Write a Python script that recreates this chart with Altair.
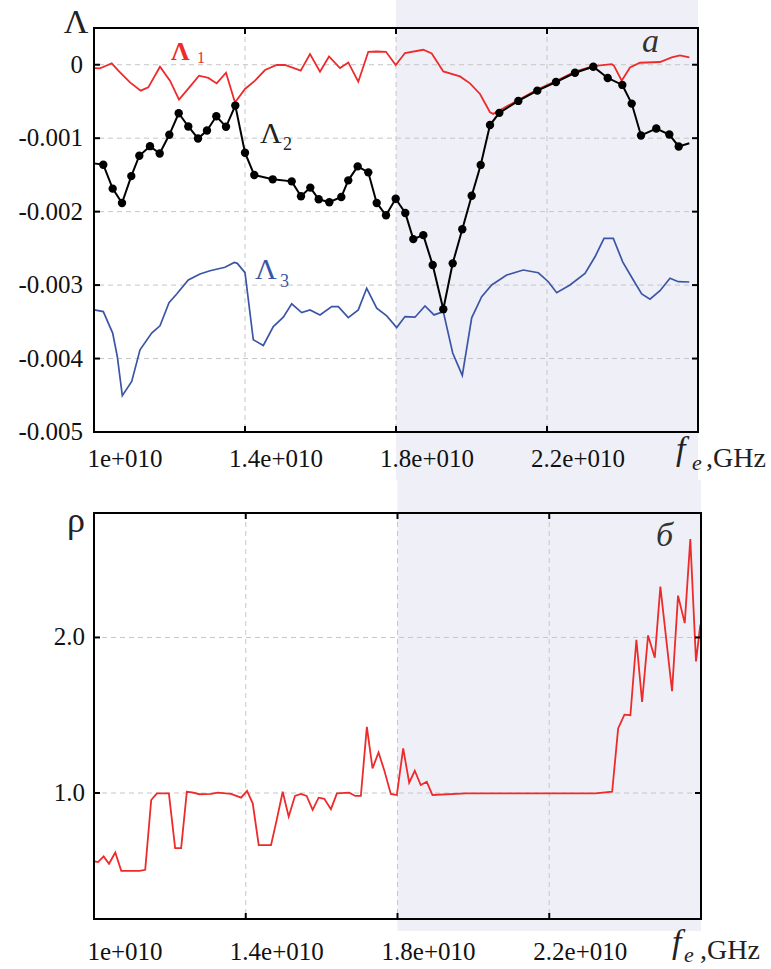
import altair as alt
import pandas as pd

FONT = "Liberation Serif"

# ---------------- data (frequency in units of 1e10 Hz, Lambda in units of 1e-3) ----------------
red_f = [1.0008, 1.0159, 1.0318, 1.0469, 1.0644, 1.0954, 1.1237, 1.1438, 1.1748, 1.2013, 1.2252, 1.2543,
         1.2781, 1.3028, 1.3250, 1.3497, 1.3735, 1.4000, 1.4265, 1.4530, 1.4840, 1.5060, 1.5476, 1.5722,
         1.5987, 1.6225, 1.6517, 1.6736, 1.7001, 1.7266, 1.7489, 1.7735, 1.7992, 1.8238, 1.8723, 1.8946,
         1.9253, 1.9695, 1.9960, 2.0225, 2.0490, 2.0577, 2.0737, 2.1240, 2.1743, 2.2238, 2.2742, 2.3226,
         2.3714, 2.3775, 2.3979, 2.4199, 2.4464, 2.4993, 2.5303, 2.5523, 2.5770]
red_v = [-0.045, -0.050, -0.014, 0.018, -0.081, -0.240, -0.353, -0.308, -0.027, -0.217, -0.475, -0.299,
         -0.149, -0.180, -0.254, -0.109, -0.516, -0.330, -0.217, -0.072, -0.004, -0.004, -0.081, 0.145,
         -0.095, 0.113, -0.045, 0.031, -0.231, 0.176, 0.180, 0.176, -0.004, 0.159, 0.204, 0.153,
         -0.091, -0.159, -0.254, -0.398, -0.647, -0.669, -0.624, -0.479, -0.339, -0.221, -0.095, -0.018,
         0.009, -0.014, -0.217, -0.037, 0.027, 0.037, 0.099, 0.126, 0.099]

black_f = [1.000, 1.0246, 1.0495, 1.0742, 1.0988, 1.1200, 1.1483, 1.1740, 1.1995, 1.2244, 1.2498, 1.2755,
           1.2993, 1.3240, 1.3497, 1.3743, 1.4000, 1.4246, 1.4734, 1.5237, 1.5483, 1.5730, 1.5952, 1.6233,
           1.6551, 1.6736, 1.6985, 1.7266, 1.7489, 1.7735, 1.7992, 1.8246, 1.8458, 1.8723, 1.8972, 1.9253,
           1.9502, 1.9756, 2.0005, 2.0244, 2.0490, 2.0737, 2.1240, 2.1743, 2.2238, 2.2742, 2.3226, 2.3608,
           2.3995, 2.4244, 2.4490, 2.4895, 2.5240, 2.5489, 2.5770]
black_v = [-1.343, -1.361, -1.687, -1.882, -1.516, -1.239, -1.109, -1.208, -0.954, -0.661, -0.841, -1.004,
           -0.896, -0.702, -0.845, -0.556, -1.198, -1.502, -1.560, -1.588, -1.791, -1.673, -1.832, -1.872,
           -1.801, -1.574, -1.384, -1.465, -1.882, -2.049, -1.825, -2.019, -2.374, -2.320, -2.727, -3.328,
           -2.704, -2.239, -1.784, -1.364, -0.821, -0.655, -0.493, -0.353, -0.235, -0.109, -0.027, -0.180,
           -0.275, -0.529, -0.963, -0.868, -0.950, -1.113, -1.068]

blue_f = [1.0008, 1.0246, 1.0495, 1.0617, 1.0750, 1.0999, 1.1219, 1.1528, 1.1748, 1.1987, 1.2191, 1.2498,
          1.2808, 1.3073, 1.3470, 1.3717, 1.3796, 1.4000, 1.4220, 1.4485, 1.4750, 1.5015, 1.5237, 1.5502,
          1.5722, 1.5987, 1.6297, 1.6472, 1.6736, 1.7001, 1.7224, 1.7489, 1.7754, 1.8019, 1.8238, 1.8503,
          1.8768, 1.9007, 1.9253, 1.9502, 1.9756, 2.0005, 2.0270, 2.0535, 2.0932, 2.1372, 2.1770, 2.2035,
          2.2257, 2.2609, 2.3007, 2.3272, 2.3510, 2.3756, 2.4005, 2.4286, 2.4509, 2.4728, 2.4993, 2.5258,
          2.5478, 2.5770]
blue_v = [-3.338, -3.361, -3.654, -3.972, -4.505, -4.311, -3.881, -3.654, -3.555, -3.239, -3.121, -2.931,
          -2.849, -2.805, -2.758, -2.691, -2.704, -2.830, -3.744, -3.822, -3.564, -3.437, -3.256, -3.375,
          -3.338, -3.406, -3.293, -3.293, -3.442, -3.338, -3.043, -3.315, -3.419, -3.578, -3.429, -3.437,
          -3.284, -3.406, -3.361, -3.925, -4.229, -3.446, -3.157, -2.999, -2.863, -2.795, -2.832, -2.954,
          -3.103, -2.999, -2.840, -2.615, -2.365, -2.365, -2.683, -2.931, -3.121, -3.193, -3.076, -2.908,
          -2.954, -2.958]

rho_f = [1.0018, 1.0105, 1.0255, 1.0395, 1.0561, 1.0718, 1.1203, 1.1350, 1.1508, 1.1658, 1.1974, 1.2139,
         1.2297, 1.2447, 1.2587, 1.2782, 1.3087, 1.3263, 1.3613, 1.3876, 1.4034, 1.4184, 1.4342, 1.4666,
         1.4816, 1.4974, 1.5132, 1.5297, 1.5455, 1.5605, 1.5763, 1.5921, 1.6071, 1.6245, 1.6403, 1.6729,
         1.6887, 1.7034, 1.7192, 1.7342, 1.7500, 1.7650, 1.7824, 1.7982, 1.8150, 1.8308, 1.8455, 1.8613,
         1.8771, 1.8921, 1.9797, 2.3218, 2.3658, 2.3816, 2.3982, 2.4139, 2.4297, 2.4447, 2.4605, 2.4782,
         2.4929, 2.5237, 2.5395, 2.5571, 2.5718, 2.5868, 2.5982]
rho_v = [0.560, 0.556, 0.592, 0.545, 0.617, 0.500, 0.500, 0.506, 0.955, 0.998, 0.998, 0.646,
         0.646, 1.008, 1.004, 0.992, 0.994, 1.002, 0.994, 0.970, 1.013, 0.934, 0.665, 0.665,
         0.827, 1.008, 0.848, 0.981, 0.994, 0.981, 0.891, 0.970, 0.963, 0.896, 0.998, 1.002,
         0.981, 0.981, 1.425, 1.158, 1.261, 1.147, 0.994, 0.987, 1.287, 1.066, 1.143, 1.051,
         1.072, 0.987, 0.998, 0.998, 1.008, 1.415, 1.504, 1.500, 1.985, 1.585, 2.013, 1.870,
         2.327, 1.654, 2.269, 2.092, 2.633, 1.846, 2.083]

x_ticks = [1.0e10, 1.4e10, 1.8e10, 2.2e10]
x_tick_labels = ["1e+010", "1.4e+010", "1.8e+010", "2.2e+010"]
x_grid = [1.4e10, 1.8e10, 2.2e10]
y1_ticks = [0.0, -0.001, -0.002, -0.003, -0.004, -0.005]
y1_tick_labels = ["0", "-0.001", "-0.002", "-0.003", "-0.004", "-0.005"]
y1_grid = [0.0, -0.001, -0.002, -0.003, -0.004]
y2_ticks = [1.0, 2.0]
y2_tick_labels = ["1.0", "2.0"]
shade_start, shade_end = 1.8e10, 2.6e10

# ---------------- frames ----------------
def df(fs, vs, yscale_unit):
    return pd.DataFrame({"f": [a * 1e10 for a in fs], "v": [b * yscale_unit for b in vs]})

red_df = df(red_f, red_v, 1e-3)
black_df = df(black_f, black_v, 1e-3)
black_pts = df(black_f[1:-1], black_v[1:-1], 1e-3)
blue_df = df(blue_f, blue_v, 1e-3)
rho_df = df(rho_f, rho_v, 1.0)
shade_df = pd.DataFrame({"a": [shade_start], "b": [shade_end]})
one = pd.DataFrame({"k": [0]})

W1, H1 = 604, 404
W2, H2 = 607, 406

xscale = alt.Scale(domain=[1.0e10, 2.6e10], nice=False, zero=False)
y1scale = alt.Scale(domain=[-0.005, 0.0005], nice=False, zero=False)
y2scale = alt.Scale(domain=[0.19, 2.8], nice=False, zero=False)
LSIZE = 25
GRID = dict(color="#c6c6c6", strokeDash=[5, 4], strokeWidth=1)
TICK = dict(color="black", strokeWidth=2)


def txt(s, x, y, size, color="#222", style="normal", weight="normal", align="left"):
    return alt.Chart(one).mark_text(text=s, font=FONT, fontSize=size, fontStyle=style,
                                    fontWeight=weight, color=color, align=align,
                                    baseline="alphabetic").encode(x=alt.value(x), y=alt.value(y))


def panel(W, H, yscale, ytick_vals, ytick_labels, ygrid_vals, xlab_y, ylab_dx, shade_top, shade_bottom,
          series, annotations):
    X = lambda field: alt.X(field, type="quantitative", scale=xscale, axis=None)
    Y = lambda field: alt.Y(field, type="quantitative", scale=yscale, axis=None)
    shade = alt.Chart(shade_df).mark_rect(color="#eff0f7").encode(
        x=X("a"), x2="b", y=alt.value(shade_top), y2=alt.value(shade_bottom))
    gx = alt.Chart(pd.DataFrame({"f": x_grid})).mark_rule(**GRID).encode(x=X("f"))
    gy = alt.Chart(pd.DataFrame({"v": ygrid_vals})).mark_rule(**GRID).encode(y=Y("v"))
    frame = alt.Chart(one).mark_rect(filled=False, stroke="black", strokeWidth=2).encode(
        x=alt.value(0), x2=alt.value(W), y=alt.value(0), y2=alt.value(H))
    tdf_y = pd.DataFrame({"v": ytick_vals, "t": ytick_labels})
    tdf_x = pd.DataFrame({"f": x_grid})
    tl = alt.Chart(tdf_y).mark_rule(**TICK).encode(y=Y("v"), x=alt.value(0), x2=alt.value(6))
    tr = alt.Chart(tdf_y).mark_rule(**TICK).encode(y=Y("v"), x=alt.value(W - 6), x2=alt.value(W))
    tt = alt.Chart(tdf_x).mark_rule(**TICK).encode(x=X("f"), y=alt.value(0), y2=alt.value(6))
    tb = alt.Chart(tdf_x).mark_rule(**TICK).encode(x=X("f"), y=alt.value(H - 6), y2=alt.value(H))
    xl = alt.Chart(pd.DataFrame({"f": x_ticks, "t": x_tick_labels})).mark_text(
        font=FONT, fontSize=LSIZE, color="#111", align="center", baseline="alphabetic", dx=31
    ).encode(x=X("f"), y=alt.value(xlab_y), text="t:N")
    yl = alt.Chart(tdf_y).mark_text(
        font=FONT, fontSize=LSIZE, color="#111", align="right", baseline="alphabetic", dy=8
    ).encode(y=Y("v"), x=alt.value(ylab_dx), text="t:N")
    layers = [shade, gx, gy]
    for data, kind, color, width in series:
        if kind == "line":
            layers.append(alt.Chart(data).mark_line(color=color, strokeWidth=width).encode(
                x=X("f"), y=Y("v")))
        else:
            layers.append(alt.Chart(data).mark_point(filled=True, color=color, size=width, opacity=1).encode(
                x=X("f"), y=Y("v")))
    layers += annotations + [frame, tl, tr, tt, tb, xl, yl]
    return alt.layer(*layers).properties(width=W, height=H)


top_ann = [
    txt("Λ", -18, 5, 34, color="#222", align="center"),
    txt("Λ", 77, 32, 26, color="#ee2a2a", weight="bold"),
    txt("1", 103, 35, 16, color="#ee2a2a"),
    txt("Λ", 166, 115, 30, color="#222"),
    txt("2", 189, 122, 18, color="#222"),
    txt("Λ", 161, 251, 30, color="#3b56a6"),
    txt("3", 186, 259, 18, color="#3b56a6"),
    txt("a", 548, 24, 34, color="#333", style="italic"),
    txt("f", 582, 432, 34, color="#222", style="italic"),
    txt("e", 598, 442, 22, color="#222", style="italic"),
    txt(",GHz", 612, 439, 28, color="#222"),
]
bottom_ann = [
    txt("ρ", -18, 19, 36, color="#222", align="center"),
    txt("б", 562, 33, 34, color="#333", style="italic"),
    txt("f", 578, 440, 34, color="#222", style="italic"),
    txt("e", 590, 449, 22, color="#222", style="italic"),
    txt(",GHz", 606, 446, 28, color="#222"),
]

top = panel(W1, H1, y1scale, y1_ticks, y1_tick_labels, y1_grid, H1 + 35, -11, -28, 452,
            [(blue_df, "line", "#3b56a6", 1.7), (red_df, "line", "#ee2a2a", 1.8),
             (black_df, "line", "#000000", 2.0), (black_pts, "point", "#000000", 70)], top_ann)
bottom = panel(W2, H2, y2scale, y2_ticks, y2_tick_labels, y2_ticks, H2 + 41, -9, -33, 418,
               [(rho_df, "line", "#ee2a2a", 1.8)], bottom_ann)

chart = alt.vconcat(top, bottom, spacing=81, bounds="flush").properties(
    padding={"left": 18, "top": 0, "right": 0, "bottom": 0}
).configure(background="white").configure_view(stroke=None)

chart.save("out.html", embed_options={"renderer": "svg", "actions": False})
